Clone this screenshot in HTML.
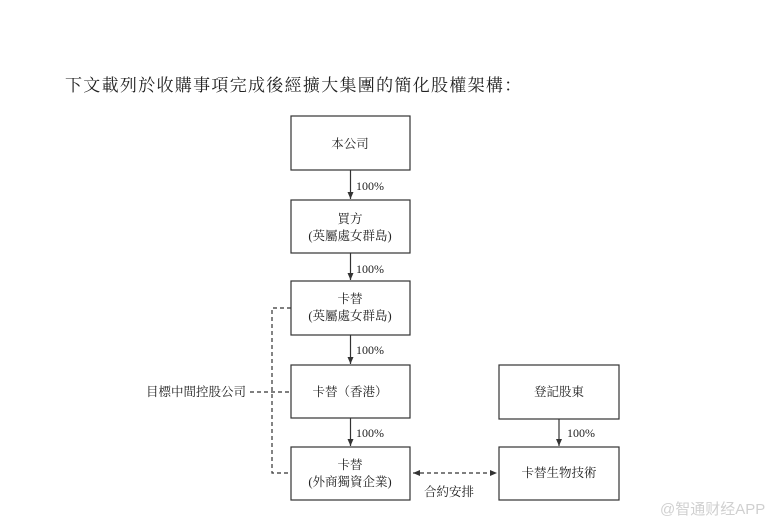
<!DOCTYPE html>
<html><head><meta charset="utf-8"><style>
html,body{margin:0;padding:0;background:#fff;width:778px;height:527px;overflow:hidden}
svg text{font-family:"Liberation Serif","Noto Serif CJK SC","Noto Sans CJK TC",serif;fill:#222}
</style></head><body>
<svg width="778" height="527" viewBox="0 0 778 527" xmlns="http://www.w3.org/2000/svg">
<defs><marker id="a" markerWidth="8" markerHeight="8" refX="7" refY="4" orient="auto-start-reverse" markerUnits="userSpaceOnUse"><path d="M0,1 L7,4 L0,7 Z" fill="#333"/></marker></defs>
<text x="65" y="91" font-size="17" letter-spacing="1.3">下文載列於收購事項完成後經擴大集團的簡化股權架構：</text>
<g fill="none" stroke="#333" stroke-width="1.2">
<rect x="291" y="116" width="119" height="54"/>
<rect x="291" y="200" width="119" height="53"/>
<rect x="291" y="281" width="119" height="54"/>
<rect x="291" y="365" width="119" height="53"/>
<rect x="291" y="447" width="119" height="53"/>
<rect x="499" y="365" width="120" height="54"/>
<rect x="499" y="447" width="120" height="53"/>
<line x1="350.5" y1="170" x2="350.5" y2="199" marker-end="url(#a)"/>
<line x1="350.5" y1="253" x2="350.5" y2="280" marker-end="url(#a)"/>
<line x1="350.5" y1="335" x2="350.5" y2="364" marker-end="url(#a)"/>
<line x1="350.5" y1="418" x2="350.5" y2="446" marker-end="url(#a)"/>
<line x1="559" y1="419" x2="559" y2="446" marker-end="url(#a)"/>
<g stroke-dasharray="4,3">
<polyline points="291,308 272,308 272,473 291,473"/>
<line x1="250" y1="392" x2="291" y2="392"/>
<line x1="413" y1="473" x2="497" y2="473" marker-start="url(#a)" marker-end="url(#a)"/>
</g>
</g>
<g font-size="12.5" text-anchor="middle">
<text x="350" y="148">本公司</text>
<text x="350" y="223">買方</text>
<text x="350" y="240">(英屬處女群島)</text>
<text x="350" y="303">卡替</text>
<text x="350" y="320">(英屬處女群島)</text>
<text x="350" y="396">卡替（香港）</text>
<text x="350" y="469">卡替</text>
<text x="350" y="486">(外商獨資企業)</text>
<text x="559" y="396">登記股東</text>
<text x="559" y="477">卡替生物技術</text>
<text x="196" y="396">目標中間控股公司</text>
<text x="449" y="496">合約安排</text>
</g>
<g font-size="12">
<text x="356" y="190">100%</text>
<text x="356" y="273">100%</text>
<text x="356" y="354">100%</text>
<text x="356" y="437">100%</text>
<text x="567" y="437">100%</text>
</g>
<text x="660" y="514" font-size="15" style="fill:#d0d0d0;font-family:'Liberation Sans','Noto Sans CJK SC',sans-serif">@智通财经APP</text>
</svg>
</body></html>
